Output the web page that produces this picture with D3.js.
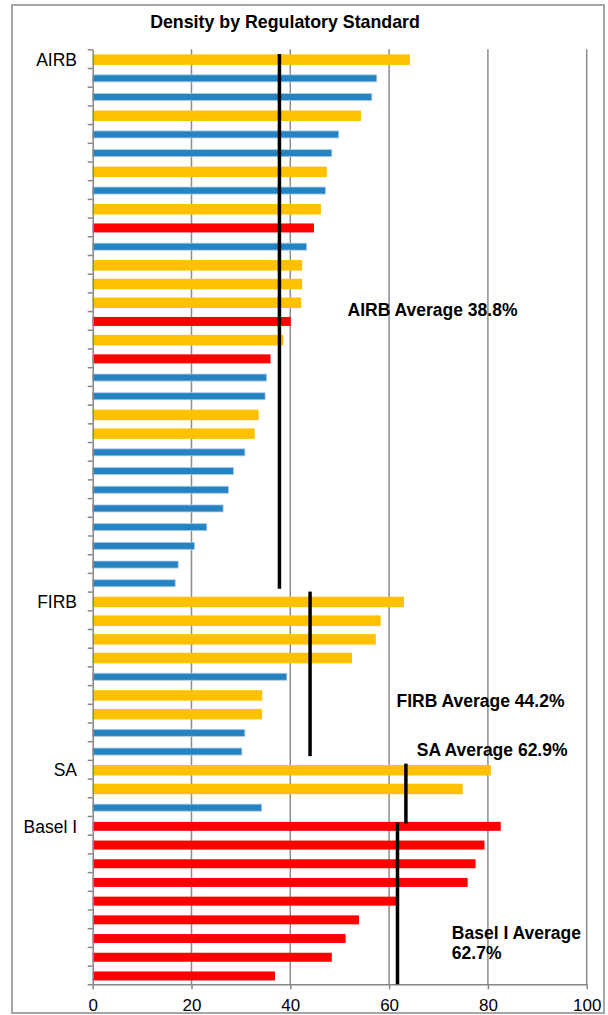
<!DOCTYPE html>
<html>
<head>
<meta charset="utf-8">
<script src="https://cdnjs.cloudflare.com/ajax/libs/d3/7.8.5/d3.min.js"></script>
<style>
  body { margin: 0; background: #fff; }
  text { font-family: "Liberation Sans", Arial, sans-serif; }
</style>
</head>
<body>
<div id="chart"></div>
<script>
// groups of banks, by regulatory standard, in drawing order
var groups = ["AIRB", "FIRB", "SA", "Basel I"];
var groupCounts = [29, 9, 3, 9];

// density (%) of each bar, top to bottom
var values = [
  64.2, 57.5, 56.5, 54.3, 49.8, 48.4, 47.4, 47.1, 46.2, 44.8,
  43.3, 42.4, 42.4, 42.2, 40.1, 38.6, 36.0, 35.2, 34.9, 33.6,
  32.8, 30.8, 28.5, 27.5, 26.4, 23.1, 20.6, 17.3, 16.7,
  63.0, 58.3, 57.3, 52.5, 39.3, 34.3, 34.3, 30.8, 30.2,
  80.6, 74.9, 34.2,
  82.6, 79.3, 77.5, 75.9, 61.4, 53.9, 51.2, 48.4, 36.9
];

// series of each bar (s1 = gold, s2 = blue, s3 = red)
var series = [
  "s1", "s2", "s2", "s1", "s2", "s2", "s1", "s2", "s1", "s3",
  "s2", "s1", "s1", "s1", "s3", "s1", "s3", "s2", "s2", "s1",
  "s1", "s2", "s2", "s2", "s2", "s2", "s2", "s2", "s2",
  "s1", "s1", "s1", "s1", "s2", "s1", "s1", "s2", "s2",
  "s1", "s1", "s2",
  "s3", "s3", "s3", "s3", "s3", "s3", "s3", "s3", "s3"
];

// averages as drawn (line position) and as labelled
var avgLines = [37.8, 44.0, 63.4, 61.7];
var avgLabels = [["AIRB Average 38.8%"], ["FIRB Average 44.2%"], ["SA Average 62.9%"], ["Basel I Average", "62.7%"]];

var xTicks = [0, 20, 40, 60, 80, 100];

var width = 608;
var height = 1015;

var svg = d3.select("#chart")
  .append("svg")
  .attr("width", width)
  .attr("height", height);

// outer frame
svg.append("rect")
  .attr("x", 12).attr("y", 5)
  .attr("width", 592).attr("height", 1008)
  .attr("fill", "none")
  .attr("stroke", "#a6a6a6")
  .attr("stroke-width", 2);

svg.append("text")
  .attr("x", 285).attr("y", 28.3)
  .attr("text-anchor", "middle")
  .style("font-size", "17.8px")
  .style("font-weight", "bold")
  .text("Density by Regulatory Standard");

var x = d3.scaleLinear().domain([0, 100]).range([92.7, 586.7]);
var rows = d3.scaleLinear().domain([0, values.length]).range([49.3, 984.3]);
var rowH = rows(1) - rows(0);

var color = d3.scaleOrdinal().domain(["s1", "s2", "s3"]).range(["#ffc000", "#2683c2", "#ff0000"]);
var barH = d3.scaleOrdinal().domain(["s1", "s2", "s3"]).range([10.5, 7, 9]);

// gridlines
svg.selectAll(".grid")
  .data(xTicks.slice(1))
  .enter()
  .append("line")
  .attr("class", "grid")
  .attr("x1", function (d) { return x(d); })
  .attr("x2", function (d) { return x(d); })
  .attr("y1", rows(0))
  .attr("y2", rows(values.length))
  .attr("stroke", "#8c8c8c")
  .attr("stroke-width", 1.5);

// bars
var bars = values.map(function (v, i) { return {value: v, s: series[i], i: i}; });

svg.selectAll(".bar")
  .data(bars)
  .enter()
  .append("rect")
  .attr("class", "bar")
  .attr("x", x(0))
  .attr("y", function (d) { return rows(d.i) + rowH / 2 + 1 - barH(d.s) / 2; })
  .attr("width", function (d) { return x(d.value) - x(0); })
  .attr("height", function (d) { return barH(d.s); })
  .attr("fill", function (d) { return color(d.s); })
  .attr("stroke", function (d) { return d.s === "s2" ? "#a9cbe8" : "none"; })
  .attr("stroke-width", 0.8);

// axes
var xAxis = svg.append("g")
  .attr("transform", "translate(0," + rows(values.length) + ")")
  .call(d3.axisBottom(x).tickValues(xTicks).tickSize(5).tickSizeOuter(0).tickPadding(10));

var yAxis = svg.append("g")
  .attr("transform", "translate(" + x(0) + ",0)")
  .call(d3.axisLeft(rows).tickValues(d3.range(values.length + 1)).tickFormat("").tickSize(5).tickSizeOuter(0));

[xAxis, yAxis].forEach(function (g) {
  g.select(".domain").attr("stroke", "#868686").attr("stroke-width", 1.5);
  g.selectAll(".tick line").attr("stroke", "#868686").attr("stroke-width", 1.5);
});
xAxis.selectAll(".tick text")
  .attr("fill", "#000")
  .style("font-size", "17px")
  .style("font-family", "Liberation Sans, Arial, sans-serif");

// group labels at first row of each group
var starts = [];
var acc = 0;
groupCounts.forEach(function (c) { starts.push(acc); acc += c; });

svg.selectAll(".glabel")
  .data(groups)
  .enter()
  .append("text")
  .attr("class", "glabel")
  .attr("x", 77)
  .attr("y", function (d, i) { return rows(starts[i]) + rowH / 2 + 7.2; })
  .attr("text-anchor", "end")
  .style("font-size", "17.5px")
  .text(function (d) { return d; });

// average lines (row spans as drawn on the original)
var lineSpans = [[0.25, 28.85], [29.0, 37.8], [38.2, 41.4], [41.35, 50]];

svg.selectAll(".avg")
  .data(avgLines)
  .enter()
  .append("line")
  .attr("class", "avg")
  .attr("x1", function (d) { return x(d); })
  .attr("x2", function (d) { return x(d); })
  .attr("y1", function (d, i) { return rows(lineSpans[i][0]); })
  .attr("y2", function (d, i) { return rows(lineSpans[i][1]); })
  .attr("stroke", "#000")
  .attr("stroke-width", 3.5);

// average labels: [x value, row of first baseline]
var labelPos = [[51.6, 14.25], [61.5, 35.15], [65.6, 37.8], [72.7, 47.58]];

avgLabels.forEach(function (lines, i) {
  var t = svg.append("text")
    .attr("x", x(labelPos[i][0]))
    .attr("y", rows(labelPos[i][1]))
    .style("font-size", "17.5px")
    .style("font-weight", "bold");
  lines.forEach(function (s, j) {
    t.append("tspan")
      .attr("x", x(labelPos[i][0]))
      .attr("dy", j === 0 ? 0 : 20)
      .text(s);
  });
});
</script>
</body>
</html>
